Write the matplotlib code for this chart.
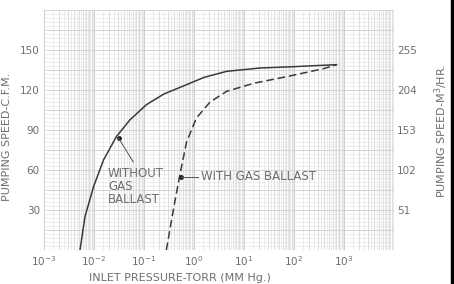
import numpy as np
import matplotlib.pyplot as plt

# pumping speed curves (pressure in torr, speed in CFM)
p_without = [5.25e-3, 6.6e-3, 9.8e-3, 1.55e-2, 2.8e-2, 5.2e-2, 0.112, 0.25, 0.71,
             1.6, 4.5, 21, 98, 710]
s_without = [0, 25, 47.5, 67.5, 85, 97.5, 109, 117, 124, 129.5, 134, 136.5, 137.5, 139]

p_with = [0.28, 0.39, 0.52, 0.71, 1.12, 2.1, 4.5, 15.5, 71, 390, 710]
s_with = [0, 31, 56, 81, 99, 111, 119, 125, 130, 136, 139]

cfm_ticks = [30, 60, 90, 120, 150]
m3hr_labels = ['51', '102', '153', '204', '255']
decades = [-3, -2, -1, 0, 1, 2, 3]

plt.rcParams['font.family'] = ['DejaVu Sans']
txt = '#6e6e6e'
ink = '#3a3a3a'

fig = plt.figure(figsize=(4.54, 2.84), dpi=100)
ax = fig.add_axes([0.0969, 0.1197, 0.7709, 0.8451])
ax.set_xscale('log')
ax.set_xlim(1e-3, 1e4)
ax.set_ylim(0, 180)

# graph paper grid
for d in range(-3, 4):
    for m in np.arange(1, 10, 0.5):
        x = m * 10.0 ** d
        c = '#cccccc' if m == 1 else '#dddddd'
        ax.axvline(x, color=c, lw=0.7 if m % 1 == 0 else 0.4, zorder=0)
ax.axvline(1e4, color='#d6d6d6', lw=0.7, zorder=0)
for y in np.arange(0, 181, 3):
    c = '#d0d0d0' if y % 15 == 0 else '#e3e3e3'
    ax.axhline(y, color=c, lw=0.6 if y % 15 == 0 else 0.45, zorder=0)

ax.plot(p_without, s_without, color=ink, lw=1.1)
ax.plot(p_with, s_with, color=ink, lw=1.1, dashes=(5, 2.5))

# annotations
ax.plot([0.031], [84], 'o', color='#222222', ms=2.5)
ax.plot([0.031, 0.061], [84, 66], color='#555555', lw=0.7)
ax.text(0.019, 62, 'WITHOUT\nGAS\nBALLAST', color=txt, fontsize=8.5,
        va='top', ha='left', linespacing=1.0)
ax.plot([0.56], [55], 'o', color='#222222', ms=2.5)
ax.plot([0.56, 1.2], [55, 55], color='#555555', lw=0.7)
ax.text(1.35, 55, 'WITH GAS BALLAST', color=txt, fontsize=8.5, va='center', ha='left')

ax.set_xticks([10.0 ** d for d in decades])
ax.set_xticklabels([r'$10^{%d}$' % d for d in decades])
ax.xaxis.set_minor_locator(plt.NullLocator())
ax.set_yticks(cfm_ticks)
ax.tick_params(length=0, labelsize=7.5, colors=txt, pad=3)
for s in ax.spines.values():
    s.set_visible(False)
ax.set_xlabel('INLET PRESSURE-TORR (MM Hg.)', color=txt, fontsize=8)
ax.xaxis.set_label_coords(0.389, -0.096)
ax.set_ylabel('PUMPING SPEED-C.F.M.', color=txt, fontsize=8)
ax.yaxis.set_label_coords(-0.091, 0.47)

ax2 = ax.twinx()
ax2.set_ylim(0, 180)
ax2.set_yticks(cfm_ticks)
ax2.set_yticklabels(m3hr_labels)
ax2.tick_params(length=0, labelsize=7.5, colors=txt, pad=2)
for s in ax2.spines.values():
    s.set_visible(False)
ax2.set_ylabel('PUMPING SPEED-M$^3$/HR.', color=txt, fontsize=8, rotation=90)
ax2.yaxis.set_label_coords(1.111, 0.496)

# black border strip at right edge of the scan
fig.patches.append(plt.Rectangle((0.993, 0), 0.007, 1, transform=fig.transFigure,
                                 color='black', zorder=5))

fig.savefig('out.png', dpi=100)
